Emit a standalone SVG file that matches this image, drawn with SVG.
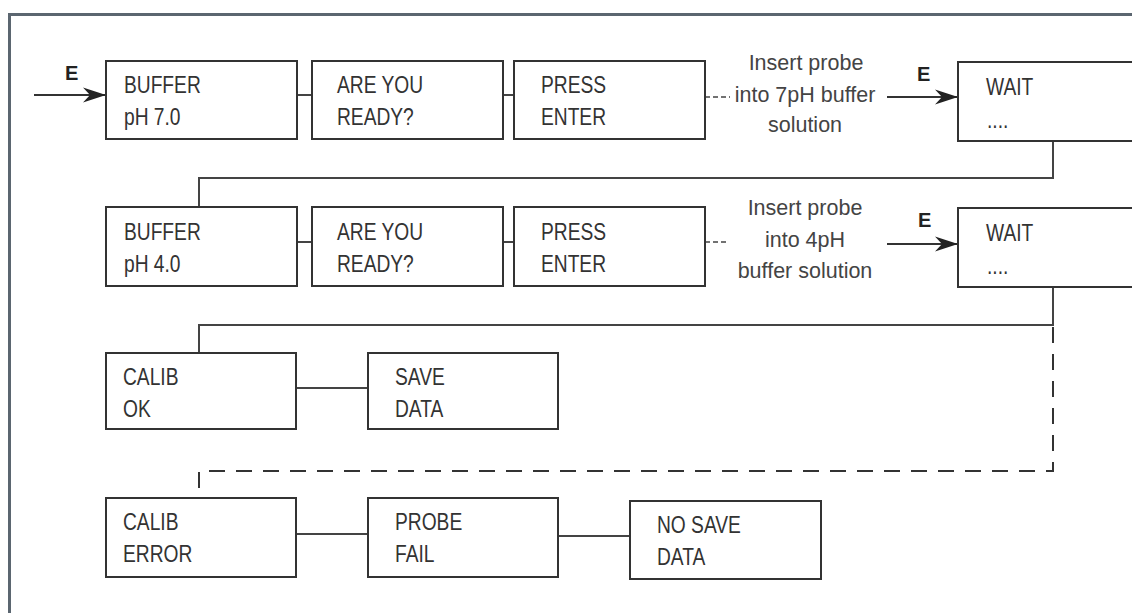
<svg xmlns="http://www.w3.org/2000/svg" width="1132" height="613" viewBox="0 0 1132 613">
<defs>
<style>
.box{fill:#fff;stroke:#333;stroke-width:2}
.t{font-family:"Liberation Sans",Arial,sans-serif;font-size:24px;fill:#333}
.lbl{font-family:"Liberation Sans",Arial,sans-serif;font-size:21.5px;fill:#444;text-anchor:middle}
.e{font-family:"Liberation Sans",Arial,sans-serif;font-size:20px;font-weight:bold;fill:#222}
.ln{fill:none;stroke:#444;stroke-width:2}
.dash{fill:none;stroke:#333;stroke-width:2;stroke-dasharray:16 11}
.sdash{fill:none;stroke:#444;stroke-width:1.5;stroke-dasharray:5 3}
.arr{fill:none;stroke:#333;stroke-width:2;marker-end:url(#ah)}
</style>
<marker id="ah" markerUnits="userSpaceOnUse" markerWidth="26" markerHeight="18" refX="23" refY="8" orient="auto">
<path d="M0,0.5 L23,8 L0,15.5 L7,8 z" fill="#222"/>
</marker>
</defs>
<rect x="0" y="0" width="1132" height="613" fill="#fff"/>
<path d="M9.5,613 V14.5 H1132" fill="none" stroke="#5b6670" stroke-width="3"/>

<g id="connectors">
<line class="arr" x1="34" y1="95" x2="106" y2="95"/>
<line class="ln" x1="297" y1="95" x2="312" y2="95"/>
<line class="ln" x1="503" y1="95" x2="514" y2="95"/>
<line class="sdash" x1="705" y1="97" x2="730" y2="97"/>
<line class="arr" x1="887" y1="97" x2="958" y2="97"/>
<path class="ln" d="M1053,141 V178 H199 V207"/>
<line class="ln" x1="297" y1="242" x2="312" y2="242"/>
<line class="ln" x1="503" y1="242" x2="514" y2="242"/>
<line class="sdash" x1="705" y1="242" x2="728" y2="242"/>
<line class="arr" x1="887" y1="244" x2="958" y2="244"/>
<path class="ln" d="M1053,287 V325 H199 V353"/>
<line class="ln" x1="296" y1="388" x2="368" y2="388"/>
<path class="dash" d="M1053,327 V471 H199 V498"/>
<line class="ln" x1="296" y1="534" x2="368" y2="534"/>
<line class="ln" x1="558" y1="536" x2="630" y2="536"/>
<text class="e" x="65" y="80">E</text>
<text class="e" x="917" y="81">E</text>
<text class="e" x="918" y="227">E</text>
<text class="lbl" x="806" y="70">Insert probe</text>
<text class="lbl" x="805" y="102">into 7pH buffer</text>
<text class="lbl" x="805" y="132">solution</text>
<text class="lbl" x="805" y="215">Insert probe</text>
<text class="lbl" x="805" y="247">into 4pH</text>
<text class="lbl" x="805" y="278">buffer solution</text>
</g>

<g id="buffer70"><rect class="box" x="106" y="61" width="191" height="78"/><text class="t" transform="translate(124,93) scale(0.8,1)">BUFFER</text><text class="t" transform="translate(124,125) scale(0.8,1)">pH 7.0</text></g>
<g id="ready1"><rect class="box" x="312" y="61" width="191" height="78"/><text class="t" transform="translate(337,93) scale(0.8,1)">ARE YOU</text><text class="t" transform="translate(337,125) scale(0.8,1)">READY?</text></g>
<g id="enter1"><rect class="box" x="514" y="61" width="191" height="78"/><text class="t" transform="translate(541,93) scale(0.8,1)">PRESS</text><text class="t" transform="translate(541,125) scale(0.8,1)">ENTER</text></g>
<g id="wait1"><rect class="box" x="958" y="62" width="190" height="79"/><text class="t" transform="translate(986,95) scale(0.8,1)">WAIT</text><text class="t" transform="translate(987,128) scale(0.8,1)">....</text></g>

<g id="buffer40"><rect class="box" x="106" y="207" width="191" height="79"/><text class="t" transform="translate(124,240) scale(0.8,1)">BUFFER</text><text class="t" transform="translate(124,272) scale(0.8,1)">pH 4.0</text></g>
<g id="ready2"><rect class="box" x="312" y="207" width="191" height="79"/><text class="t" transform="translate(337,240) scale(0.8,1)">ARE YOU</text><text class="t" transform="translate(337,272) scale(0.8,1)">READY?</text></g>
<g id="enter2"><rect class="box" x="514" y="207" width="191" height="79"/><text class="t" transform="translate(541,240) scale(0.8,1)">PRESS</text><text class="t" transform="translate(541,272) scale(0.8,1)">ENTER</text></g>
<g id="wait2"><rect class="box" x="958" y="208" width="190" height="79"/><text class="t" transform="translate(986,241) scale(0.8,1)">WAIT</text><text class="t" transform="translate(987,274) scale(0.8,1)">....</text></g>

<g id="calibok"><rect class="box" x="106" y="353" width="190" height="76"/><text class="t" transform="translate(123,385) scale(0.8,1)">CALIB</text><text class="t" transform="translate(123,417) scale(0.8,1)">OK</text></g>
<g id="savedata"><rect class="box" x="368" y="353" width="190" height="76"/><text class="t" transform="translate(395,385) scale(0.8,1)">SAVE</text><text class="t" transform="translate(395,417) scale(0.8,1)">DATA</text></g>

<g id="caliberror"><rect class="box" x="106" y="498" width="190" height="79"/><text class="t" transform="translate(123,530) scale(0.8,1)">CALIB</text><text class="t" transform="translate(123,562) scale(0.8,1)">ERROR</text></g>
<g id="probefail"><rect class="box" x="368" y="498" width="190" height="79"/><text class="t" transform="translate(395,530) scale(0.8,1)">PROBE</text><text class="t" transform="translate(395,562) scale(0.8,1)">FAIL</text></g>
<g id="nosave"><rect class="box" x="630" y="501" width="191" height="78"/><text class="t" transform="translate(657,533) scale(0.8,1)">NO SAVE</text><text class="t" transform="translate(657,565) scale(0.8,1)">DATA</text></g>
</svg>
